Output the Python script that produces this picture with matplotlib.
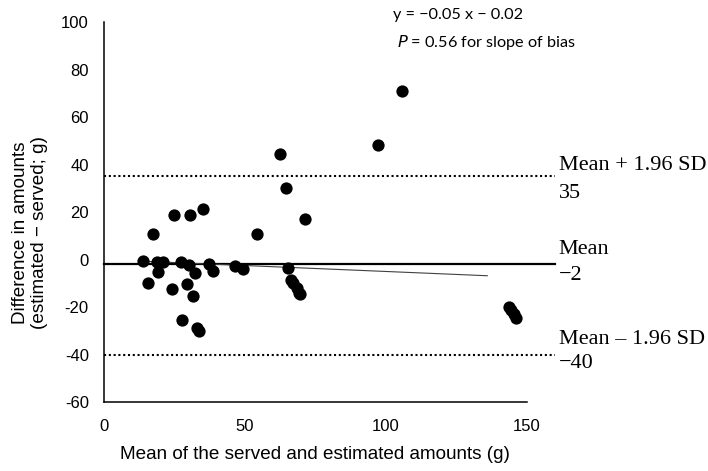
import matplotlib.pyplot as plt
import numpy as np

plt.rcParams['axes.unicode_minus'] = False

# Bland-Altman data: mean of served/estimated (g) vs difference (estimated - served; g)
mean_amount = [13.7, 15.7, 17.5, 18.7, 19.2, 21.0, 24.0, 24.8, 27.3, 27.6,
               29.6, 30.2, 30.5, 31.5, 32.3, 33.0, 33.8, 35.0, 37.3, 38.8,
               46.6, 49.2, 54.2, 62.5, 64.5, 65.4, 66.2, 67.0, 68.4, 69.3,
               69.5, 71.3, 97.1, 105.6, 143.7, 144.4, 145.5, 146.2]
diff_amount = [-0.8, -9.8, 10.6, -1.2, -5.1, -1.2, -12.4, 18.6, -0.9, -25.5,
               -10.3, -2.3, 18.6, -15.3, -5.8, -29.0, -30.1, 21.4, -1.9, -4.8,
               -2.9, -3.8, 10.9, 44.3, 30.0, -3.7, -8.6, -9.8, -12.1, -14.0,
               -14.6, 17.2, 48.1, 71.2, -20.0, -21.3, -22.9, -24.6]

bias_mean = -2
loa_upper = 35
loa_lower = -40
slope = -0.05
intercept = -0.02
fit_x_end = 136
line_x_end = 160   # horizontal reference lines run a bit past the axis

x_ticks = [0, 50, 100, 150]
y_ticks = [-60, -40, -20, 0, 20, 40, 60, 80, 100]

fig = plt.figure(figsize=(7.08, 4.71), dpi=100)
ax = fig.add_axes([0.147, 0.1465, 0.597, 0.8065])

ax.scatter(mean_amount, diff_amount, s=78, color='black', zorder=3, linewidths=0)

ax.plot([0, line_x_end], [bias_mean, bias_mean], color='black', lw=1.6,
        zorder=2, clip_on=False)
for lim in (loa_upper, loa_lower):
    ax.plot([0, line_x_end], [lim, lim], color='black', lw=1.5,
            ls=(0, (1, 1.3)), clip_on=False)

fx = np.array([min(mean_amount), fit_x_end])
ax.plot(fx, slope * fx + intercept, color='#404040', lw=0.8, zorder=2)

ax.set_xlim(0, 150)
ax.set_ylim(-60, 100)
ax.set_xticks(x_ticks)
ax.set_yticks(y_ticks)
ax.tick_params(axis='x', length=0, labelsize=12, pad=12)
ax.tick_params(axis='y', length=0, labelsize=12, pad=11)
for lab in ax.get_xticklabels() + ax.get_yticklabels():
    lab.set_family('Liberation Sans')
for s in ['top', 'right']:
    ax.spines[s].set_visible(False)
ax.spines['left'].set_linewidth(1.1)
ax.spines['bottom'].set_linewidth(1.1)

ax.set_xlabel('Mean of the served and estimated amounts (g)', family='Liberation Sans',
              fontsize=13.6, va='center')
ax.xaxis.set_label_coords(0.5, -0.139)
ax.set_ylabel('Difference in amounts\n(estimated \u2212 served; g)', family='Liberation Sans',
              fontsize=13.6, va='center', linespacing=1.1)
ax.yaxis.set_label_coords(-0.175, 0.445)

# labels for the limits of agreement
serif = 'Liberation Serif'
lx = 0.789
for txt, ypix in [('Mean + 1.96 SD', 166), ('35', 193),
                  ('Mean', 249), ('\u22122', 275),
                  ('Mean \u2013 1.96 SD', 340), ('\u221240', 364)]:
    fig.text(lx, 1 - ypix / 471, txt, family=serif, fontsize=16, va='center')

fig.text(0.555, 1 - 15 / 471, 'y = \u22120.05 x \u2212 0.02', family='Lato', fontsize=11.7, va='center')
fig.text(0.561, 1 - 43 / 471, r'$P$ = 0.56 for slope of bias', family='Lato', fontsize=11.7, va='center')

fig.savefig('out.png', dpi=100)
